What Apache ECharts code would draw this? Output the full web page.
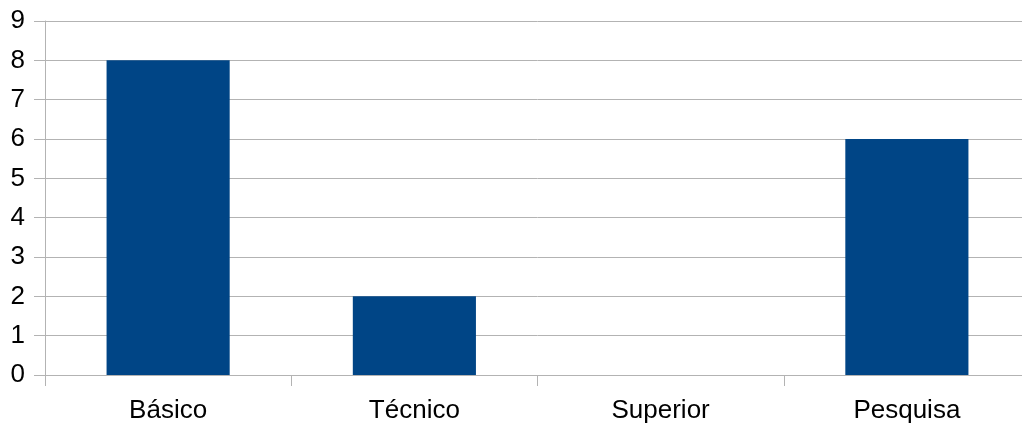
<!DOCTYPE html>
<html>
<head>
<meta charset="utf-8">
<script src="https://cdn.jsdelivr.net/npm/echarts@6/dist/echarts.min.js"></script>
<style>
  html, body { margin: 0; padding: 0; background: #fff; overflow: hidden; }
  /* the plot runs a little past the right edge of the picture */
  #chart { width: 1030px; height: 425px; }
</style>
</head>
<body>
<div id="chart"></div>
<script>
const categories = ['Básico', 'Técnico', 'Superior', 'Pesquisa']
const values = [8, 2, 0, 6]
const yMin = 0
const yMax = 9
const yStep = 1

const chart = echarts.init(document.getElementById('chart'), null, { renderer: 'canvas' })
const gridColor = '#b3b3b3'
const font = 'Liberation Sans, Arial, sans-serif'

chart.setOption({
  animation: false,
  grid: {
    left: 45,
    right: 0,
    top: 21,
    bottom: 50,
    containLabel: false
  },
  xAxis: {
    type: 'category',
    data: categories,
    axisLine: { lineStyle: { color: gridColor, width: 1 } },
    axisTick: { show: true, length: 11, lineStyle: { color: gridColor } },
    axisLabel: { color: '#000', fontSize: 26, fontFamily: font, margin: 23 }
  },
  yAxis: {
    type: 'value',
    min: yMin,
    max: yMax,
    interval: yStep,
    axisLine: { show: true, lineStyle: { color: gridColor, width: 1 } },
    axisTick: { show: true, length: 11, lineStyle: { color: gridColor } },
    axisLabel: { color: '#000', fontSize: 26, fontFamily: font, margin: 20 },
    splitLine: { lineStyle: { color: gridColor, width: 1 } }
  },
  series: [{
    type: 'bar',
    data: values,
    barWidth: '50%',
    itemStyle: { color: '#004586' }
  }]
})
</script>
</body>
</html>
